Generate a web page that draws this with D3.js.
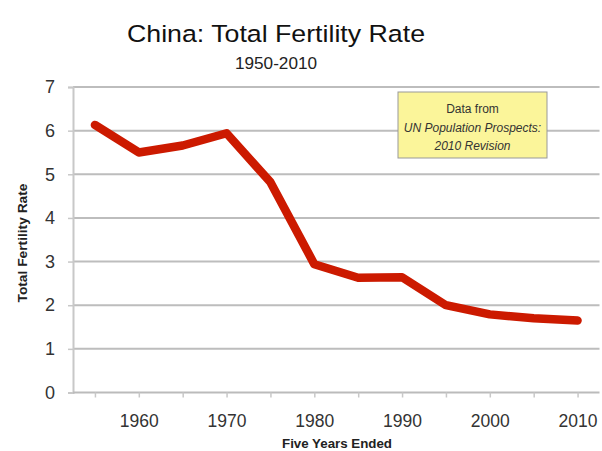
<!DOCTYPE html>
<html><head><meta charset="utf-8">
<script src="https://cdn.jsdelivr.net/npm/d3@7"></script>
<style>body{margin:0;background:#fff}svg{display:block}</style>
</head><body>
<svg id="c" width="602" height="451"></svg>
<script>
const years = [1955,1960,1965,1970,1975,1980,1985,1990,1995,2000,2005,2010];
const tfr = [6.13,5.50,5.66,5.94,4.82,2.94,2.63,2.64,2.00,1.79,1.70,1.65];
const yTicks = [0,1,2,3,4,5,6,7];
const xLabels = [1960,1970,1980,1990,2000,2010];
const title = "China: Total Fertility Rate";
const subtitle = "1950-2010";
const noteLines = ["Data from","UN Population Prospects:","2010 Revision"];

(function(){
const svg = d3.select("#c");
const mL = 73, mR = 599.5, mT = 87, mB = 392.5;
const x = d3.scalePoint().domain(years).range([mL, mR]).padding(0.5);
const y = d3.scaleLinear().domain([0,7]).range([mB, mT]);
const font = "Liberation Sans, Arial, sans-serif";

svg.append("text").attr("x",276).attr("y",42).attr("text-anchor","middle")
  .attr("font-family",font).attr("font-size",24.5).attr("fill","#111")
  .attr("textLength",298).attr("lengthAdjust","spacingAndGlyphs").text(title);
svg.append("text").attr("x",276).attr("y",68.5).attr("text-anchor","middle")
  .attr("font-family",font).attr("font-size",16.5).attr("fill","#222")
  .attr("textLength",82).attr("lengthAdjust","spacingAndGlyphs").text(subtitle);

svg.append("g").selectAll("line").data(yTicks.filter(d=>d>0)).join("line")
  .attr("x1",mL).attr("x2",mR).attr("y1",d=>y(d)).attr("y2",d=>y(d))
  .attr("stroke","#bdbdbd").attr("stroke-width",2);

const ya = svg.append("g").attr("transform",`translate(${mL},0)`)
  .call(d3.axisLeft(y).tickValues(yTicks).tickFormat(d3.format("d")).tickSize(5).tickPadding(13));
ya.select(".domain").attr("stroke","#c8c8c8").attr("stroke-width",2);
ya.selectAll(".tick line").attr("stroke","#c8c8c8").attr("stroke-width",1.5);
ya.selectAll("text").attr("font-family",font).attr("font-size",18).attr("fill","#333");

const xa = svg.append("g").attr("transform",`translate(0,${mB})`)
  .call(d3.axisBottom(x).tickSize(5).tickPadding(17)
    .tickFormat(d=>xLabels.includes(d)?d:""));
xa.select(".domain").attr("stroke","#bbb").attr("stroke-width",2).attr("d",`M${mL},0H${mR}`);
xa.selectAll(".tick line").attr("stroke","#c8c8c8").attr("stroke-width",1.5);
xa.selectAll("text").attr("font-family",font).attr("font-size",17.5).attr("fill","#333");

svg.append("text").attr("transform","translate(26.5,243) rotate(-90)").attr("text-anchor","middle")
  .attr("font-family",font).attr("font-size",12).attr("font-weight","bold").attr("fill","#222")
  .attr("textLength",119).attr("lengthAdjust","spacingAndGlyphs")
  .text("Total Fertility Rate");
svg.append("text").attr("x",337).attr("y",447.5).attr("text-anchor","middle")
  .attr("font-family",font).attr("font-size",12).attr("font-weight","bold").attr("fill","#222")
  .attr("textLength",110).attr("lengthAdjust","spacingAndGlyphs")
  .text("Five Years Ended");

const line = d3.line().x((d,i)=>x(years[i])).y(d=>y(d));
svg.append("path").datum(tfr).attr("d",line).attr("fill","none")
  .attr("stroke","#cc1a00").attr("stroke-width",8.5)
  .attr("stroke-linejoin","round").attr("stroke-linecap","round");

svg.append("rect").attr("x",398).attr("y",92).attr("width",149).attr("height",66)
  .attr("fill","#fbf59a").attr("stroke","#999").attr("stroke-width",1);
noteLines.forEach((t,i)=>{
  svg.append("text").attr("x",472.5).attr("y",113+i*18.5).attr("text-anchor","middle")
    .attr("font-family",font).attr("font-size",12).attr("fill","#333")
    .attr("font-style",i>0?"italic":"normal").text(t);
});
})();
</script>
</body></html>
